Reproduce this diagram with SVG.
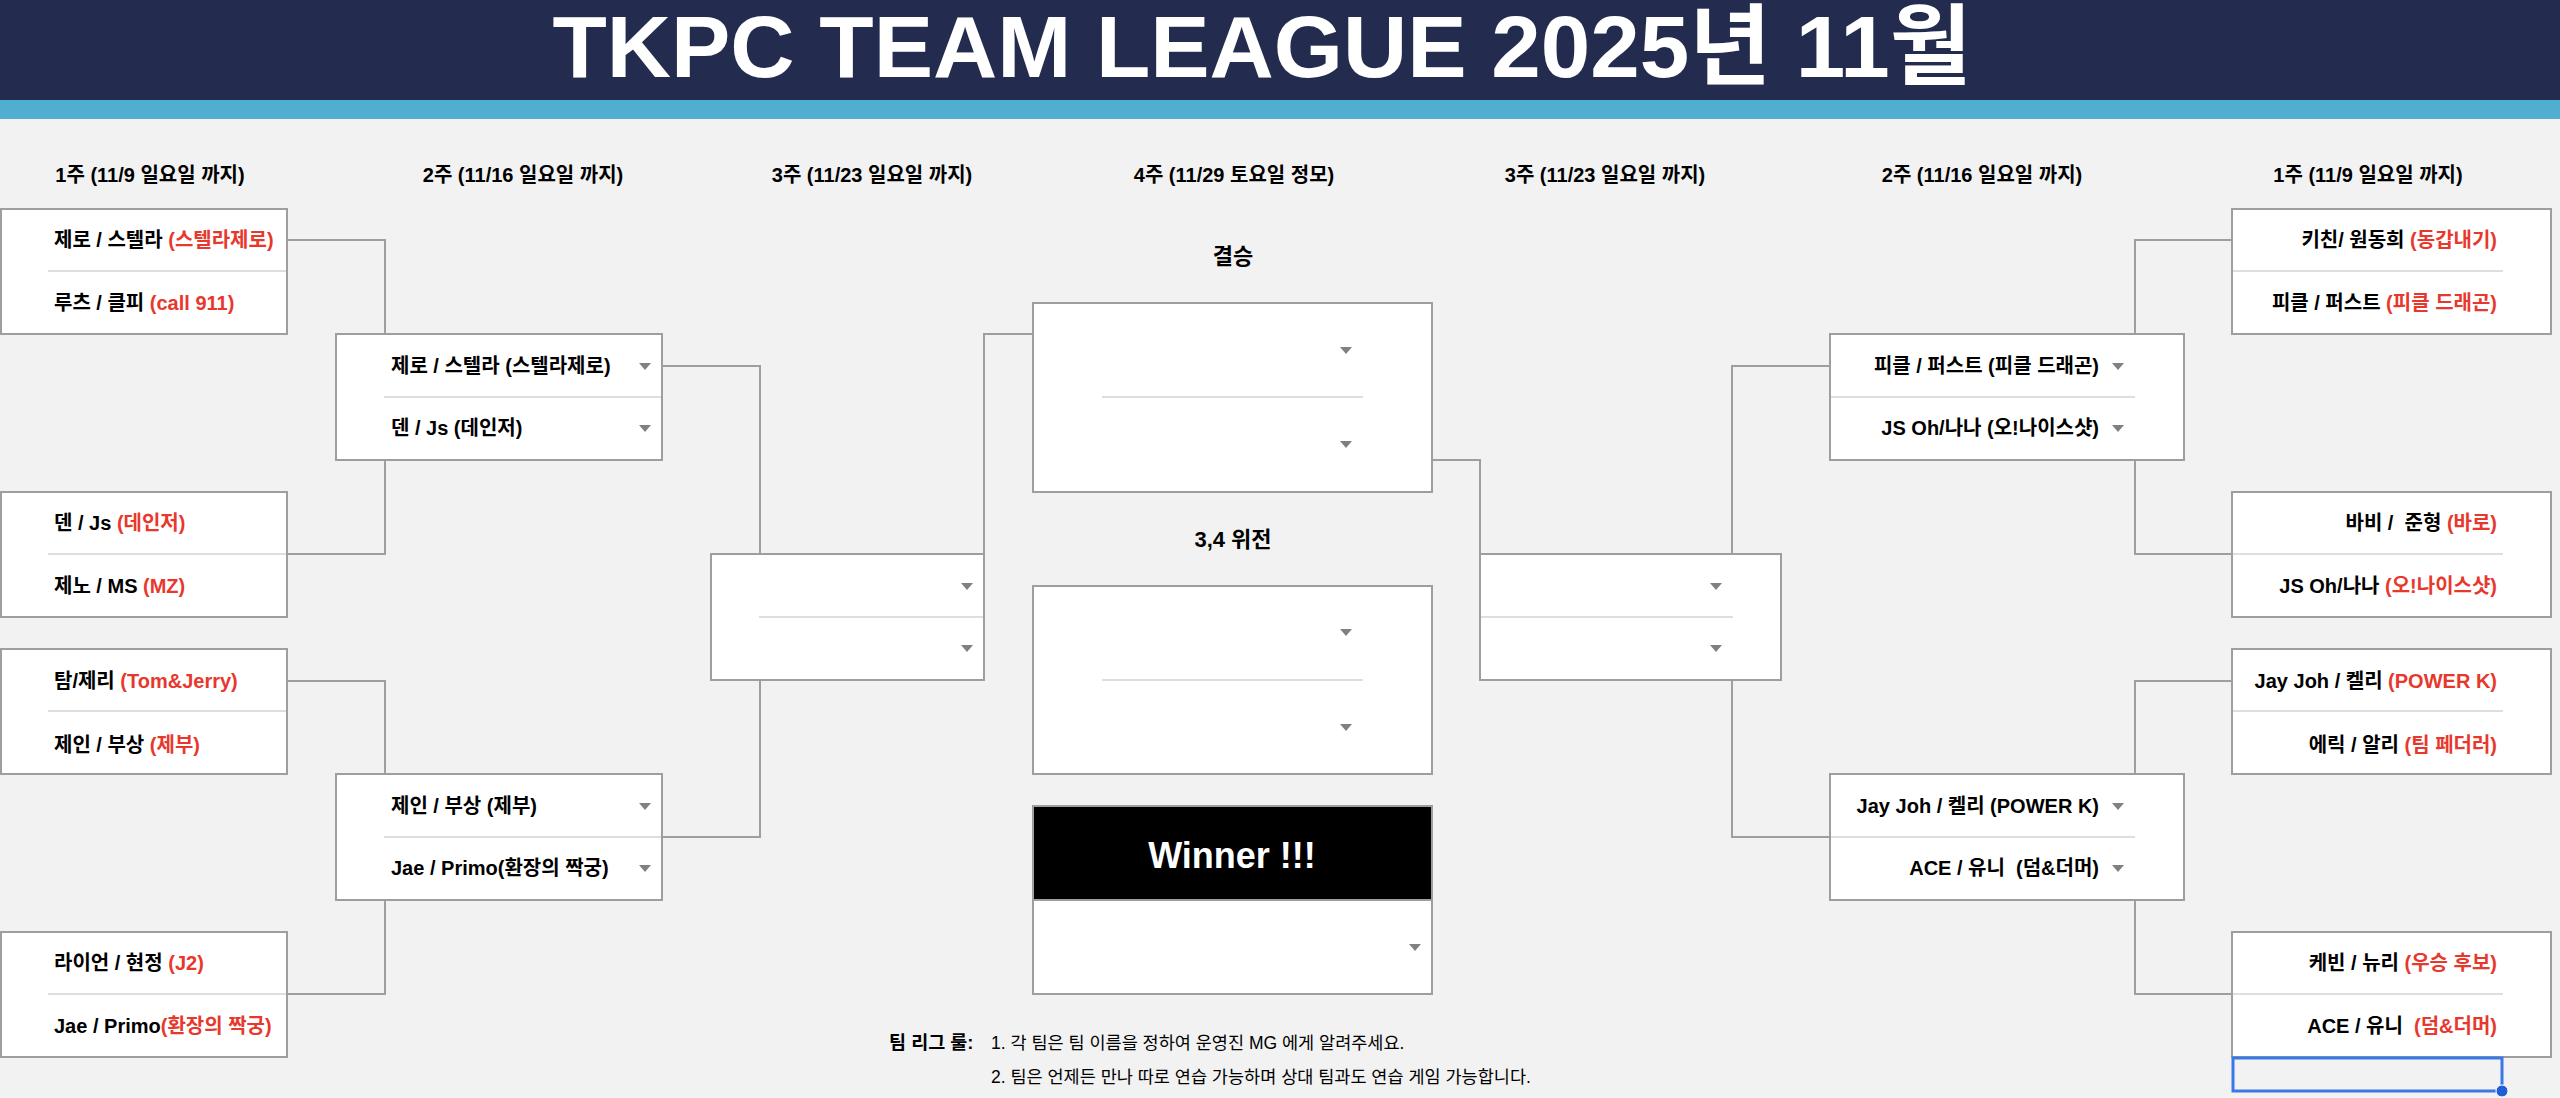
<svg xmlns="http://www.w3.org/2000/svg" xmlns:xlink="http://www.w3.org/1999/xlink" width="2560" height="1098" viewBox="0 0 2560 1098">
<style>
.box{fill:#fff;stroke:#9e9e9e;stroke-width:2}
.dv{stroke:#dedede;stroke-width:2;fill:none}
.conn{fill:none;stroke:#9e9e9e;stroke-width:2}
.t{font-family:"Liberation Sans","Noto Sans CJK KR",sans-serif;font-size:20px;font-weight:bold;fill:#000;white-space:pre}
.r{fill:#e8382d}
.e{text-anchor:end}
.h{font-family:"Liberation Sans","Noto Sans CJK KR",sans-serif;font-size:20px;font-weight:bold;fill:#000;text-anchor:middle}
.lbl{font-family:"Liberation Sans","Noto Sans CJK KR",sans-serif;font-size:22px;font-weight:bold;fill:#000;text-anchor:middle}
.rule{font-family:"Liberation Sans","Noto Sans CJK KR",sans-serif;font-size:17.5px;fill:#000}
</style>
<defs>
<path id="dd" d="M-6,-3 L6,-3 L0,4 Z" fill="#808080"/>
</defs>
<rect x="0" y="0" width="2560" height="1098" fill="#f2f2f2"/>
<g id="header">
<rect x="0" y="0" width="2560" height="100" fill="#232c4e"/>
<rect x="0" y="100" width="2560" height="19" fill="#50aed1"/>
<text x="1262" y="77" text-anchor="middle" textLength="1419" lengthAdjust="spacingAndGlyphs" font-family="'Liberation Sans','Noto Sans CJK KR',sans-serif" font-size="88" font-weight="bold" fill="#fff">TKPC TEAM LEAGUE 2025년 11월</text>
</g>
<g id="round-headers">
<text class="h" x="150" y="182">1주 (11/9 일요일 까지)</text>
<text class="h" x="523" y="182">2주 (11/16 일요일 까지)</text>
<text class="h" x="872" y="182">3주 (11/23 일요일 까지)</text>
<text class="h" x="1234" y="182">4주 (11/29 토요일 정모)</text>
<text class="h" x="1605" y="182">3주 (11/23 일요일 까지)</text>
<text class="h" x="1982" y="182">2주 (11/16 일요일 까지)</text>
<text class="h" x="2368" y="182">1주 (11/9 일요일 까지)</text>
</g>
<g id="connectors">
<path class="conn" d="M287,240 H385 V334"/>
<path class="conn" d="M385,460 V554 H287"/>
<path class="conn" d="M287,681 H385 V774"/>
<path class="conn" d="M385,900 V994 H287"/>
<path class="conn" d="M662,366 H760 V554"/>
<path class="conn" d="M760,680 V837 H662"/>
<path class="conn" d="M984,554 V334 H1033"/>
<path class="conn" d="M1432,460 H1480 V554"/>
<path class="conn" d="M1830,366 H1732 V554"/>
<path class="conn" d="M1732,680 V837 H1830"/>
<path class="conn" d="M2232,240 H2135 V334"/>
<path class="conn" d="M2135,460 V554 H2232"/>
<path class="conn" d="M2232,681 H2135 V774"/>
<path class="conn" d="M2135,900 V994 H2232"/>
</g>
<g id="L1a">
<rect class="box" x="1" y="209" width="286" height="125"/>
<line class="dv" x1="48" y1="271" x2="286" y2="271"/>
<text class="t" x="54" y="247">제로 / 스텔라 <tspan class="r">(스텔라제로)</tspan></text>
<text class="t" x="54" y="310">루츠 / 클피 <tspan class="r">(call 911)</tspan></text>
</g>
<g id="L1b">
<rect class="box" x="1" y="492" width="286" height="125"/>
<line class="dv" x1="48" y1="554" x2="286" y2="554"/>
<text class="t" x="54" y="530">덴 / Js <tspan class="r">(데인저)</tspan></text>
<text class="t" x="54" y="593">제노 / MS <tspan class="r">(MZ)</tspan></text>
</g>
<g id="L1c">
<rect class="box" x="1" y="649" width="286" height="125"/>
<line class="dv" x1="48" y1="711" x2="286" y2="711"/>
<text class="t" x="54" y="688">탐/제리 <tspan class="r">(Tom&amp;Jerry)</tspan></text>
<text class="t" x="54" y="752">제인 / 부상 <tspan class="r">(제부)</tspan></text>
</g>
<g id="L1d">
<rect class="box" x="1" y="932" width="286" height="125"/>
<line class="dv" x1="48" y1="994" x2="286" y2="994"/>
<text class="t" x="54" y="970">라이언 / 현정 <tspan class="r">(J2)</tspan></text>
<text class="t" x="54" y="1033">Jae / Primo<tspan class="r">(환장의 짝궁)</tspan></text>
</g>
<g id="L2a">
<rect class="box" x="336" y="334" width="326" height="126"/>
<line class="dv" x1="384" y1="397" x2="661" y2="397"/>
<text class="t" x="391" y="373">제로 / 스텔라 (스텔라제로)</text>
<text class="t" x="391" y="435">덴 / Js (데인저)</text>
<use xlink:href="#dd" x="645" y="366"/>
<use xlink:href="#dd" x="645" y="428"/>
</g>
<g id="L2b">
<rect class="box" x="336" y="774" width="326" height="126"/>
<line class="dv" x1="384" y1="837" x2="661" y2="837"/>
<text class="t" x="391" y="813">제인 / 부상 (제부)</text>
<text class="t" x="391" y="875">Jae / Primo(환장의 짝궁)</text>
<use xlink:href="#dd" x="645" y="806"/>
<use xlink:href="#dd" x="645" y="868"/>
</g>
<g id="L3">
<rect class="box" x="711" y="554" width="273" height="126"/>
<line class="dv" x1="759" y1="617" x2="983" y2="617"/>
<use xlink:href="#dd" x="967" y="586"/>
<use xlink:href="#dd" x="967" y="648"/>
</g>
<g id="final">
<text class="lbl" x="1233" y="264">결승</text>
<rect class="box" x="1033" y="303" width="399" height="189"/>
<line class="dv" x1="1102" y1="397" x2="1363" y2="397"/>
<use xlink:href="#dd" x="1346" y="350"/>
<use xlink:href="#dd" x="1346" y="444"/>
</g>
<g id="third-place">
<text class="lbl" x="1233" y="547">3,4 위전</text>
<rect class="box" x="1033" y="586" width="399" height="188"/>
<line class="dv" x1="1102" y1="680" x2="1363" y2="680"/>
<use xlink:href="#dd" x="1346" y="632"/>
<use xlink:href="#dd" x="1346" y="727"/>
</g>
<g id="winner">
<rect class="box" x="1033" y="806" width="399" height="188"/>
<rect x="1033" y="806" width="399" height="94" fill="#000" stroke="#9e9e9e" stroke-width="2"/>
<text x="1232" y="868" text-anchor="middle" font-family="'Liberation Sans','Noto Sans CJK KR',sans-serif" font-size="36" font-weight="bold" fill="#fff">Winner !!!</text>
<use xlink:href="#dd" x="1415" y="947"/>
</g>
<g id="R3">
<rect class="box" x="1480" y="554" width="301" height="126"/>
<line class="dv" x1="1481" y1="617" x2="1733" y2="617"/>
<use xlink:href="#dd" x="1716" y="586"/>
<use xlink:href="#dd" x="1716" y="648"/>
</g>
<g id="R2a">
<rect class="box" x="1830" y="334" width="354" height="126"/>
<line class="dv" x1="1831" y1="397" x2="2135" y2="397"/>
<text class="t e" x="2099" y="373">피클 / 퍼스트 (피클 드래곤)</text>
<text class="t e" x="2099" y="435">JS Oh/나나 (오!나이스샷)</text>
<use xlink:href="#dd" x="2118" y="366"/>
<use xlink:href="#dd" x="2118" y="428"/>
</g>
<g id="R2b">
<rect class="box" x="1830" y="774" width="354" height="126"/>
<line class="dv" x1="1831" y1="837" x2="2135" y2="837"/>
<text class="t e" x="2099" y="813">Jay Joh / 켈리 (POWER K)</text>
<text class="t e" x="2099" y="875">ACE / 유니  (덤&amp;더머)</text>
<use xlink:href="#dd" x="2118" y="806"/>
<use xlink:href="#dd" x="2118" y="868"/>
</g>
<g id="R1a">
<rect class="box" x="2232" y="209" width="319" height="125"/>
<line class="dv" x1="2233" y1="271" x2="2503" y2="271"/>
<text class="t e" x="2497" y="247">키친/ 원동희 <tspan class="r">(동갑내기)</tspan></text>
<text class="t e" x="2497" y="310">피클 / 퍼스트 <tspan class="r">(피클 드래곤)</tspan></text>
</g>
<g id="R1b">
<rect class="box" x="2232" y="492" width="319" height="125"/>
<line class="dv" x1="2233" y1="554" x2="2503" y2="554"/>
<text class="t e" x="2497" y="530">바비 /  준형 <tspan class="r">(바로)</tspan></text>
<text class="t e" x="2497" y="593">JS Oh/나나 <tspan class="r">(오!나이스샷)</tspan></text>
</g>
<g id="R1c">
<rect class="box" x="2232" y="649" width="319" height="125"/>
<line class="dv" x1="2233" y1="711" x2="2503" y2="711"/>
<text class="t e" x="2497" y="688">Jay Joh / 켈리 <tspan class="r">(POWER K)</tspan></text>
<text class="t e" x="2497" y="752">에릭 / 알리 <tspan class="r">(팀 페더러)</tspan></text>
</g>
<g id="R1d">
<rect class="box" x="2232" y="932" width="319" height="125"/>
<line class="dv" x1="2233" y1="994" x2="2503" y2="994"/>
<text class="t e" x="2497" y="970">케빈 / 뉴리 <tspan class="r">(우승 후보)</tspan></text>
<text class="t e" x="2497" y="1033">ACE / 유니  <tspan class="r">(덤&amp;더머)</tspan></text>
</g>
<g id="selection">
<rect x="2233" y="1058" width="269" height="33" fill="none" stroke="#3b78e7" stroke-width="3"/>
<circle cx="2502" cy="1091" r="6" fill="#1f5fd6" stroke="#fff" stroke-width="1"/>
</g>
<g id="rules">
<text x="889" y="1049" font-family="'Liberation Sans','Noto Sans CJK KR',sans-serif" font-size="18.5" font-weight="bold" fill="#000">팀 리그 룰:</text>
<text class="rule" x="991" y="1049">1. 각 팀은 팀 이름을 정하여 운영진 MG 에게 알려주세요.</text>
<text class="rule" x="991" y="1083">2. 팀은 언제든 만나 따로 연습 가능하며 상대 팀과도 연습 게임 가능합니다.</text>
</g>
</svg>
